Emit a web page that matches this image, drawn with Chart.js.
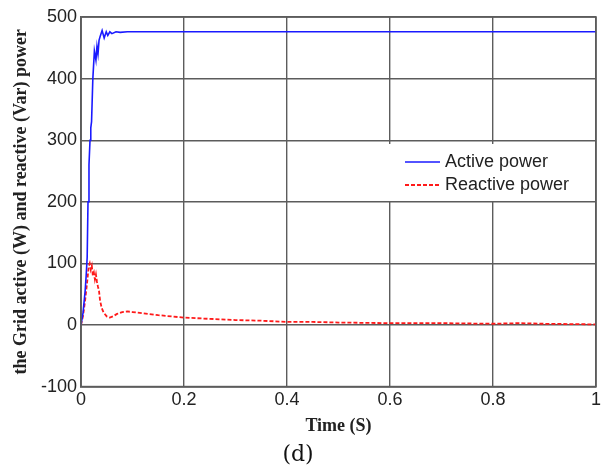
<!DOCTYPE html>
<html>
<head>
<meta charset="utf-8">
<script src="https://cdn.jsdelivr.net/npm/chart.js@4/dist/chart.umd.min.js"></script>
<style>
  html, body { margin: 0; padding: 0; background: #fff; }
  #wrap { width: 606px; height: 471px; }
</style>
</head>
<body>
<div id="wrap"><canvas id="chart_gridPower" width="606" height="471"></canvas></div>
<script>
// time (s) and values
var activeTime = [0, 0.004, 0.008, 0.010, 0.012, 0.0136, 0.0155, 0.0175, 0.019, 0.0205, 0.023, 0.026, 0.029, 0.031, 0.033, 0.035, 0.037, 0.041, 0.045, 0.049, 0.052, 0.056, 0.060, 0.068, 0.076, 0.09, 0.11, 0.134, 0.16, 0.2, 0.3, 0.4, 0.5, 0.6, 0.7, 0.8, 0.9, 1.0];
var activePower = [0, 20, 55, 80, 110, 200, 260, 300, 320, 330, 400, 445, 430, 452, 440, 462, 468, 478, 466, 476, 470, 476, 473, 476, 475, 476, 476, 476, 476, 476, 476, 476, 476, 476, 476, 476, 476, 476];

var reactiveTime = [0, 0.004, 0.008, 0.012, 0.015, 0.017, 0.019, 0.021, 0.023, 0.025, 0.027, 0.029, 0.031, 0.033, 0.035, 0.037, 0.040, 0.044, 0.050, 0.056, 0.062, 0.070, 0.080, 0.090, 0.10, 0.12, 0.15, 0.2, 0.25, 0.3, 0.35, 0.4, 0.45, 0.5, 0.6, 0.7, 0.8, 0.85, 0.9, 1.0];
var reactivePower = [0, 15, 40, 70, 95, 100, 90, 96, 80, 85, 74, 82, 70, 62, 55, 40, 28, 20, 14, 12, 14, 18, 21, 22, 21, 19, 16, 12, 10, 8, 7, 5, 5, 4, 3, 3, 2, 3, 2, 1];

var xTicks = [0, 0.2, 0.4, 0.6, 0.8, 1];
var yTicks = [-100, 0, 100, 200, 300, 400, 500];

function toPoints(xs, ys) {
  return xs.map(function (x, i) { return { x: x, y: ys[i] }; });
}

var gridColor = '#5c5c5c';

var chart_gridPower = new Chart(document.getElementById('chart_gridPower'), {
    type: 'line',
    data: {
        datasets: [
            {
                label: 'Active power',
                data: toPoints(activeTime, activePower),
                borderColor: '#1a1aff',
                borderWidth: 1.6,
                pointRadius: 0,
                tension: 0
            },
            {
                label: 'Reactive power',
                data: toPoints(reactiveTime, reactivePower),
                borderColor: '#ff1a1a',
                borderWidth: 1.8,
                borderDash: [4, 2],
                pointRadius: 0,
                tension: 0
            }
        ]
    },
    options: {
        animation: false,
        responsive: false,
        layout: {
            padding: { top: 17, right: 10, left: 0, bottom: 0 }
        },
        plugins: {
            legend: { display: false },
            tooltip: { enabled: false },
            title: {
                display: true,
                position: 'bottom',
                text: '(d)',
                color: '#111',
                font: { family: 'DejaVu Serif', size: 22, weight: 'normal', lineHeight: 1.2 },
                padding: { top: 0, bottom: 3 }
            }
        },
        scales: {
            x: {
                type: 'linear',
                min: 0,
                max: 1,
                afterBuildTicks: function (scale) {
                    scale.ticks = xTicks.map(function (v) { return { value: v }; });
                },
                ticks: {
                    color: '#222',
                    padding: 3,
                    maxRotation: 0,
                    font: { family: 'Liberation Sans', size: 18 },
                    callback: function (v) { return String(v); }
                },
                grid: { color: gridColor, lineWidth: 1.4, drawTicks: false },
                border: { color: gridColor, width: 1.6 },
                title: {
                    display: true,
                    text: 'Time (S)',
                    color: '#222',
                    font: { family: 'Liberation Serif', size: 18, weight: 'bold', lineHeight: 1.2 },
                    padding: { top: 0, bottom: 4 }
                },
                afterFit: function (scale) { scale.height = 55; }
            },
            y: {
                min: -100,
                max: 500,
                afterBuildTicks: function (scale) {
                    scale.ticks = yTicks.map(function (v) { return { value: v }; });
                },
                ticks: {
                    color: '#222',
                    padding: 4,
                    font: { family: 'Liberation Sans', size: 18 }
                },
                grid: { color: gridColor, lineWidth: 1.4, drawTicks: false },
                border: { color: gridColor, width: 1.6 },
                title: {
                    display: true,
                    text: 'the Grid active (W) and reactive (Var) power',
                    color: '#222',
                    font: { family: 'Liberation Serif', size: 18, weight: 'bold', lineHeight: 1.2 },
                    padding: { top: 11, bottom: 0 }
                },
                afterFit: function (scale) { scale.width = 81; }
            }
        }
    },
    plugins: [{
        id: 'frameAndLegend',
        afterDatasetsDraw: function (chart) {
            var ctx = chart.ctx;
            var a = chart.chartArea;
            ctx.save();
            // top / right frame like MATLAB axes box
            ctx.strokeStyle = gridColor;
            ctx.lineWidth = 1.6;
            ctx.strokeRect(a.left, a.top, a.right - a.left, a.bottom - a.top);
            // legend box inside the axes
            var bx = a.left + 305, by = a.top + 127, bw = 200, bh = 57;
            ctx.fillStyle = '#fff';
            ctx.fillRect(bx, by, bw, bh);
            ctx.font = '18px "Liberation Sans"';
            ctx.textBaseline = 'middle';
            chart.data.datasets.forEach(function (ds, i) {
                var ly = by + 18 + i * 23;
                ctx.strokeStyle = ds.borderColor;
                ctx.lineWidth = ds.borderWidth;
                ctx.setLineDash(ds.borderDash || []);
                ctx.beginPath();
                ctx.moveTo(bx + 19, ly);
                ctx.lineTo(bx + 54, ly);
                ctx.stroke();
                ctx.setLineDash([]);
                ctx.fillStyle = '#222';
                ctx.fillText(ds.label, bx + 59, ly);
            });
            ctx.restore();
        }
    }]
});
</script>
</body>
</html>
